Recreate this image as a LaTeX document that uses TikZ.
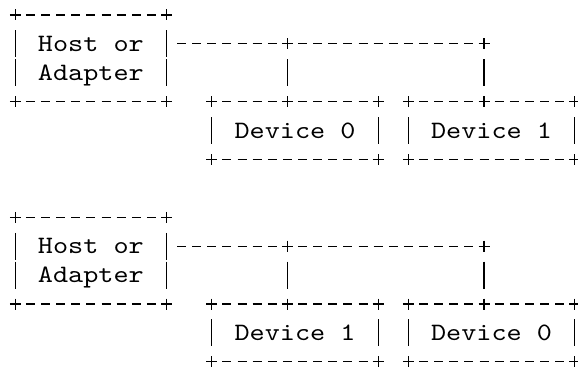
\documentclass[tikz,border=0pt]{standalone}
\usepackage{fontspec}
\newfontfamily\asciimono[Extension=.otf,FakeStretch=1.152]{lmmono10-regular}
\tikzset{
  boxnode/.style={draw=none, inner sep=0pt, outer sep=0pt,
    font=\asciimono\fontsize{25pt}{28.9pt}\selectfont, text=black},
  hostbox/.style={boxnode, minimum width=151.2pt, minimum height=86.7pt,
    align=center, text height=48.3pt, text depth=4pt},
  devbox/.style={boxnode, minimum width=166.32pt, minimum height=57.8pt,
    text height=19.4pt, text depth=4pt},
  hrun/.style={line width=1.2pt, dash pattern=on 9pt off 6.12pt,
    shorten <=10.62pt, shorten >=10.62pt},
  vrun/.style={line width=1.2pt, dash pattern=on 27pt off 1.9pt,
    shorten <=15.45pt, shorten >=15.45pt},
  crux/.pic={\draw[line width=1.2pt] (-5.5,0) -- (5.5,0) (0,-5.5) -- (0,5.5);}
}
\newcommand\asciibox[1]{%
  \draw[hrun] (#1.north west) -- (#1.north east);
  \draw[hrun] (#1.south west) -- (#1.south east);
  \draw[vrun] (#1.north west) -- (#1.south west);
  \draw[vrun] (#1.north east) -- (#1.south east);
  \foreach \a in {north west,north east,south west,south east} {\pic at (#1.\a) {crux};}
}
\begin{document}
\begin{tikzpicture}[x=1pt,y=-1pt]
\useasboundingbox (0,0) rectangle (578,369);
% ---- upper diagram
\node[hostbox] (hostA) at (90.9,58.35) {Host or\\Adapter};
\node[devbox] (devA0) at (295.02,130.6) {Device 0};
\node[devbox] (devA1) at (491.58,130.6) {Device 1};
\coordinate (jA1) at (287.46,43.9);
\coordinate (jA2) at (484.02,43.9);
\coordinate (tA0) at (jA1 |- devA0.north);
\coordinate (tA1) at (jA2 |- devA1.north);
\asciibox{hostA}
\asciibox{devA0}
\asciibox{devA1}
\draw[hrun] (hostA.north east |- jA1) -- (jA1) -- (jA2);
\draw[vrun] (jA1) -- (tA0);
\draw[vrun] (jA2) -- (tA1);
\foreach \p in {jA1,jA2,tA0,tA1} {\pic at (\p) {crux};}
% ---- lower diagram
\node[hostbox] (hostB) at (90.9,260.65) {Host or\\Adapter};
\node[devbox] (devB1) at (295.02,332.9) {Device 1};
\node[devbox] (devB0) at (491.58,332.9) {Device 0};
\coordinate (jB1) at (287.46,246.2);
\coordinate (jB2) at (484.02,246.2);
\coordinate (tB1) at (jB1 |- devB1.north);
\coordinate (tB0) at (jB2 |- devB0.north);
\asciibox{hostB}
\asciibox{devB1}
\asciibox{devB0}
\draw[hrun] (hostB.north east |- jB1) -- (jB1) -- (jB2);
\draw[vrun] (jB1) -- (tB1);
\draw[vrun] (jB2) -- (tB0);
\foreach \p in {jB1,jB2,tB1,tB0} {\pic at (\p) {crux};}
\end{tikzpicture}
\end{document}
